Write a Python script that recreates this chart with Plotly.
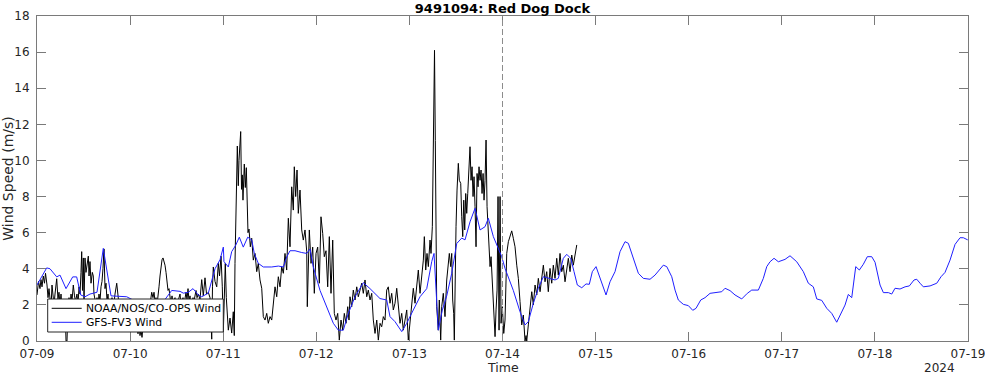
import pandas as pd
import plotly.graph_objects as go

START = pd.Timestamp("2024-07-09 00:00")
END = pd.Timestamp("2024-07-19 00:00")
forecast_start = "2024-07-14 00:00"

# Observed wind (NOAA/NOS/CO-OPS): hours since 2024-07-09 00:00, speed m/s
obs_hours = [
    0.0, 0.39, 0.77, 1.03, 1.29, 1.62, 1.93, 2.19, 2.58, 2.84, 3.09, 3.35, 3.61, 3.87, 4.12, 4.38, 4.64, 5.08,
    5.41, 5.67, 5.93, 6.19, 6.45, 6.70, 6.96, 7.22, 7.48, 7.73, 7.99, 8.25, 8.51, 8.77, 9.02, 9.36, 9.67, 9.93,
    10.31, 10.57, 10.83, 11.09, 11.34, 11.52, 11.73, 11.94, 12.12, 12.37, 12.63, 12.89, 13.23, 13.41, 13.66,
    13.92, 14.26, 14.51, 14.69, 14.95, 15.21, 15.47, 15.73, 15.98, 16.24, 16.50, 16.76, 17.01, 17.27, 17.53,
    17.79, 18.05, 18.30, 18.56, 18.82, 19.08, 19.34, 19.59, 19.85, 20.11, 20.55, 20.88, 21.14, 21.40, 21.91,
    22.43, 22.94, 23.46, 23.98, 24.49, 25.01, 25.52, 26.04, 26.30, 26.55, 26.81, 27.07, 27.33, 27.84, 28.36,
    28.87, 29.13, 29.57, 29.90, 30.16, 30.42, 30.68, 30.94, 31.19, 31.45, 31.71, 31.97, 32.23, 32.48, 32.74,
    33.00, 33.26, 33.51, 33.77, 34.03, 34.29, 34.55, 34.80, 35.06, 35.58, 35.83, 36.35, 36.87, 37.12, 37.64,
    37.90, 38.41, 38.67, 38.93, 39.19, 39.44, 39.70, 40.22, 40.47, 40.99, 41.25, 41.58, 42.02, 42.46, 42.87,
    43.31, 43.70, 44.16, 44.60, 45.04, 45.24, 45.45, 45.89, 46.33, 46.74, 47.05, 47.44, 47.77, 48.03, 48.29,
    48.54, 48.80, 49.06, 49.32, 49.76, 50.19, 50.60, 50.86, 51.04, 51.30, 51.64, 51.89, 52.07, 52.51, 52.72,
    52.92, 53.10, 53.44, 53.70, 53.96, 54.14, 54.39, 54.65, 54.99, 55.35, 55.76, 56.20, 56.64, 57.05, 57.49,
    57.93, 58.34, 58.78, 59.22, 59.63, 60.07, 60.51, 60.92, 61.36, 61.80, 62.21, 62.65, 63.08, 63.50, 63.93,
    64.37, 64.79, 65.22, 65.66, 66.07, 66.33, 66.69, 67.03, 67.36, 67.80, 68.24, 68.65, 69.09, 69.53, 69.68,
    69.94, 70.20, 70.64, 71.07, 71.49, 71.93, 72.36, 72.78, 73.21, 73.65, 74.06, 74.50, 74.94, 75.36, 75.79,
    76.23, 76.64, 77.08, 77.52, 77.93, 78.37, 78.81, 79.22, 79.66, 80.10, 80.43, 80.69, 81.13, 81.54, 81.98,
    82.42, 82.83, 83.27, 83.71, 84.12, 84.56, 85.00, 85.41, 85.85, 86.29, 86.70, 87.14, 87.58, 87.99, 88.43,
    88.86, 89.28, 89.71, 90.15, 90.56, 91.00, 91.44, 91.85, 92.29, 92.73, 93.14, 93.58, 94.02, 94.43, 94.87,
    95.31, 95.72, 96.16, 96.60, 97.01, 97.45, 97.89, 98.30, 98.74, 99.18, 99.59, 99.85, 100.21, 100.54,
    100.88, 101.32, 101.57, 101.91, 102.27, 102.47, 102.68, 103.04, 103.45, 103.71, 104.07, 104.33, 104.74,
    105.18, 105.62, 106.03, 106.29, 106.65, 106.91, 107.16, 107.42, 107.58, 107.76, 108.02, 108.28, 108.61,
    108.87, 109.23, 109.49, 109.75, 110.01, 110.26, 110.52, 110.78, 111.04, 111.30, 111.63, 111.89, 112.15,
    112.41, 112.66, 112.92, 113.18, 113.44, 113.70, 113.95, 114.21, 114.47, 114.73, 114.99, 115.24, 115.50,
    115.76, 116.02, 116.27, 116.53, 116.79, 117.05, 117.31, 117.56, 117.82, 118.08, 118.34, 118.60, 118.85,
    119.11, 119.37, 119.63, 119.96, 120.32, 120.65, 121.09, 121.51, 121.94, 122.38, 122.79, 123.23, 123.67,
    124.08, 124.52, 124.96, 125.37, 125.81, 126.07, 126.25, 126.66, 127.10, 127.54, 127.95, 128.39, 128.83,
    129.24, 129.68, 130.11, 130.53, 130.96, 131.40, 131.81, 132.25, 132.69, 133.10, 133.54, 133.98, 134.39,
    134.83, 135.27, 135.68, 136.12, 136.56, 136.97, 137.41, 137.85, 138.26, 138.70, 139.14,
]
obs_speed = [
    2.55, 3.3, 2.9, 3.4, 3.0, 3.6, 3.2, 3.75, 3.1, 2.4, 2.9, 2.2, 1.8, 3.1, 2.3, 2.0, 2.6, 3.45,
    2.3, 2.7, 2.0, 2.6, 1.8, 2.2, 1.5, 2.0, 0.0, 0.0, 1.8, 2.4, 2.0, 2.6, 2.2, 3.1, 2.5, 2.2,
    2.6, 2.0, 3.0, 2.6, 3.8, 4.95, 2.8, 4.6, 2.2, 4.6, 3.8, 4.2, 4.7, 3.6, 4.4,
    3.2, 3.8, 3.6, 2.6, 2.3, 1.8, 2.4, 2.0, 2.6, 2.2, 3.0, 3.3, 4.0, 5.1, 2.9,
    3.2, 2.2, 2.6, 1.8, 2.3, 2.0, 2.4, 1.6, 2.2, 2.6, 3.2, 2.4, 2.0, 2.3, 1.6,
    2.0, 1.2, 1.8, 1.0, 1.4, 0.8, 1.2, 0.4, 0.9, 0.3, 0.6, 0.2, 0.8, 1.2, 1.8,
    2.3, 2.0, 2.7, 2.4, 2.7, 2.2, 2.4, 2.0, 2.4, 3.0, 3.6, 4.2, 4.5, 4.6, 4.4,
    4.2, 3.8, 3.3, 2.8, 2.9, 2.3, 2.0, 2.5, 2.1, 2.4, 1.8, 2.2, 2.6, 2.0, 2.4,
    2.0, 2.7, 2.3, 2.9, 2.2, 2.5, 2.0, 2.4, 2.2, 2.8, 2.4, 2.6, 2.3, 3.4, 2.5,
    3.5, 2.6, 2.7, 2.4, 0.1, 3.0, 4.1, 3.3, 3.0, 4.3, 3.6, 4.7, 3.0, 0.5, 2.5,
    4.3, 2.4, 1.16, 0.6, 1.27, 0.44, 1.62, 0.3, 4.3, 7.5, 10.8, 8.6, 10.0, 11.6, 8.4,
    9.2, 7.8, 9.8, 8.5, 9.6, 8.5, 6.0, 6.2, 5.22, 5.69, 4.48, 4.85, 3.84, 4.3, 3.38,
    2.92, 1.35, 1.16, 1.53, 0.98, 1.35, 1.16, 2.27, 3.0, 2.45, 3.56, 3.0, 4.12, 3.75, 4.85,
    3.93, 6.8, 5.22, 8.54, 7.25, 9.65, 8.0, 9.47, 7.07, 8.36, 6.15, 5.59, 6.15, 4.95, 1.9,
    4.48, 6.15, 4.3, 5.2, 2.64, 4.85, 5.2, 3.2, 6.88, 5.96, 4.67, 5.0, 3.0, 5.78, 2.64,
    5.59, 1.53, 1.16, 1.53, 0.05, 1.16, 0.6, 1.53, 0.98, 1.9, 1.16, 2.45, 1.9, 2.82, 2.27,
    3.0, 2.45, 2.82, 3.2, 2.64, 3.38, 2.45, 2.82, 2.27, 2.64, 1.16, 0.42, 1.16, 0.05, 0.98,
    0.79, 1.35, 1.16, 2.82, 3.0, 2.09, 2.64, 1.72, 2.09, 2.92, 1.9, 0.98, 1.53, 0.6, 1.16,
    1.72, 0.05, 0.98, 2.27, 2.92, 2.09, 3.2, 3.93, 2.64, 3.75, 4.48, 5.78, 3.93, 4.85,
    4.12, 5.59, 4.85, 6.33, 13.0, 16.1, 11.1, 1.9, 0.6, 2.27, 0.05, 1.9, 2.64,
    1.35, 3.38, 4.3, 4.85, 4.12, 4.85, 2.27, 1.53, 0.05, 3.75, 6.33, 8.36, 9.84,
    8.9, 8.73, 6.88, 5.78, 7.8, 6.15, 8.17, 7.07, 8.17, 9.65, 10.76, 8.9, 9.65,
    8.0, 9.1, 7.44, 5.22, 9.28, 8.54, 9.65, 8.9, 9.47, 8.17, 9.28, 7.8, 8.9,
    11.13, 7.44, 6.33, 5.22, 4.12, 4.67, 3.38, 2.27, 0.6, 0.24, 1.72, 2.82, 8.0,
    0.6, 8.0, 0.98, 1.9, 0.42, 1.16, 4.85, 5.5, 5.87, 6.1, 5.69, 5.22, 4.2,
    3.47, 2.18, 0.89, 1.44, 0.0, 0.3, 0.0, 0.89, 1.99, 2.73, 2.0, 3.1, 2.55,
    3.47, 2.73, 3.65, 4.2, 3.28, 3.84, 2.73, 4.02, 3.2, 4.2, 3.47, 4.58, 3.65,
    4.85, 3.84, 4.2, 3.28, 4.02, 4.58, 3.84, 4.76, 4.2, 4.76, 5.32,
]

# Model wind (GFS-FV3): hours since 2024-07-09 00:00, speed m/s
model_hours = [
    0.0, 2.50, 3.35, 5.08, 5.93, 7.48, 9.20, 10.23, 11.27, 12.37, 13.66, 15.47, 17.09, 19.08, 23.12, 24.49,
    29.13, 33.0, 34.73, 36.87, 37.72, 39.01, 40.22, 41.58, 42.46, 44.16, 45.89, 47.18, 48.03, 48.2, 49.32,
    50.19, 51.22, 52.15, 53.18, 54.32, 55.35, 56.02, 57.05, 58.34, 60.51, 62.21, 63.50, 64.37, 65.22, 66.51,
    68.24, 69.53, 70.38, 71.23, 72.96, 74.69, 76.39, 77.68, 78.96, 80.25, 81.98, 84.12, 85.85, 88.43, 90.15,
    91.0, 92.29, 94.02, 95.31, 97.01, 98.74, 100.47, 101.76, 102.35, 103.45, 104.49, 105.62, 106.91, 108.20,
    109.49, 110.34, 111.63, 112.92, 114.21, 115.50, 116.35, 117.64, 119.80, 120.65, 122.79, 124.52, 125.81,
    126.66, 127.95, 129.24, 130.53, 132.25, 133.54, 134.39, 135.68, 136.56, 137.59, 138.44, 139.29, 140.43,
    141.53, 142.38, 143.16, 144.11, 145.14, 146.0, 146.69, 147.72, 149.01, 150.30, 151.59, 152.44, 153.73,
    155.02, 156.30, 158.03, 159.32, 161.46, 162.34, 163.63, 164.48, 165.33, 166.62, 167.91, 169.04, 169.89,
    171.10, 172.21, 173.50, 175.23, 176.52, 177.37, 178.66, 179.94, 181.67, 183.11, 184.25, 185.95, 187.24,
    188.12, 188.97, 190.00, 191.11, 192.83, 194.12, 195.85, 197.55, 198.84, 200.13, 201.01, 202.30, 203.59,
    204.87, 206.16, 207.01, 208.30, 209.15, 210.03, 211.06, 211.99, 213.02, 214.05, 215.18, 216.04, 217.33,
    218.18, 219.47, 220.34, 221.19, 222.48, 223.77, 224.88, 226.09, 226.79, 227.64, 228.49, 230.22, 231.95,
    233.05, 234.08, 235.37, 236.66, 237.95, 238.80, 239.93,
]
model_speed = [
    3.1, 4.05, 4.0, 3.55, 3.65, 2.9, 3.55, 3.55, 2.55, 2.45, 2.6, 2.7, 5.13, 2.5, 2.45, 2.3,
    2.2, 2.3, 2.8, 2.75, 2.65, 2.7, 2.9, 2.55, 2.45, 2.65, 4.0, 4.5, 5.2, 4.4, 4.1,
    4.95, 5.3, 5.75, 5.2, 5.75, 5.6, 4.85, 4.3, 4.1, 4.1, 4.15, 4.1, 4.65, 5.0, 5.0,
    4.9, 4.85, 5.1, 4.1, 2.8, 1.9, 0.98, 0.6, 0.6, 1.53, 2.45, 3.23, 2.9, 2.35, 2.27,
    1.35, 1.07, 0.52, 0.98, 1.72, 2.45, 2.9, 4.4, 4.85, 0.6, 1.72, 2.5, 3.75, 5.4,
    5.7, 5.6, 6.6, 7.35, 6.15, 6.33, 6.8, 5.78, 4.67, 4.02, 2.8, 1.62, 0.89,
    1.07, 2.09, 2.92, 3.56, 3.47, 3.38, 3.47, 4.58, 4.8, 4.58, 3.84, 3.1, 2.95,
    3.16, 3.14, 3.84, 4.12, 3.47, 2.92, 2.55, 3.28, 3.84, 4.95, 5.5, 5.41, 4.58,
    3.75, 3.47, 3.42, 3.65, 4.2, 4.12, 3.56, 2.82, 2.27, 2.03, 1.96, 1.7, 1.81,
    2.27, 2.4, 2.64, 2.68, 2.73, 2.92, 2.79, 2.55, 2.33, 2.64, 2.82, 2.82, 3.47,
    4.12, 4.39, 4.58, 4.39, 4.52, 4.72, 4.39, 3.84, 3.2, 3.0, 2.33, 2.25, 1.81,
    1.53, 1.04, 1.44, 1.99, 2.58, 2.4, 4.12, 3.93, 4.25, 4.67, 4.67, 4.36, 3.1,
    2.68, 2.68, 2.6, 2.92, 2.88, 3.0, 3.05, 3.38, 3.42, 3.2, 3.0, 3.05, 3.2,
    3.56, 3.8, 4.48, 5.35, 5.72, 5.72, 5.6,
]

station_title = "9491094: Red Dog Dock"
obs_name = "NOAA/NOS/CO-OPS Wind"
model_name = "GFS-FV3 Wind"
y_label = "Wind Speed (m/s)"
x_label = "Time"
year_label = "2024"

obs_time = START + pd.to_timedelta(obs_hours, unit="h")
model_time = START + pd.to_timedelta(model_hours, unit="h")

FONT = "DejaVu Sans"
TXT = "#262626"
AX = "#7a7a7a"
OBS_COLOR = "black"
MODEL_COLOR = "#1f1fff"

# plot-area geometry in pixels (used only for layout placement)
W, H = 985, 376
L, R, T, B = 37, 17, 16, 35
PW, PH = W - L - R, H - T - B


def px_x(px):
    return (px - L) / PW


def px_y(py):
    return (H - B - py) / PH


fig = go.Figure()
fig.add_trace(go.Scatter(x=obs_time, y=obs_speed, mode="lines", name=obs_name,
                         line=dict(color=OBS_COLOR, width=1), showlegend=False))
fig.add_trace(go.Scatter(x=model_time, y=model_speed, mode="lines", name=model_name,
                         line=dict(color=MODEL_COLOR, width=1), showlegend=False))

fig.add_vline(x=pd.Timestamp(forecast_start), line=dict(color="#8c8c8c", width=1, dash="6px,3px"))

fig.update_layout(
    width=W, height=H,
    margin=dict(l=L, r=R, t=T, b=B),
    paper_bgcolor="white", plot_bgcolor="white",
    font=dict(family=FONT, size=12, color=TXT),
    title=dict(text="<b>" + station_title + "</b>", x=(L + PW / 2) / W, xanchor="center",
               y=1 - 8 / H, yanchor="middle", font=dict(size=13, color="black")),
    showlegend=False,
)
fig.update_xaxes(
    type="date", range=[START, END], dtick=86400000, tickformat="%m-%d",
    ticks="inside", ticklen=9, tickcolor=AX, showline=True, linecolor=AX, linewidth=1,
    mirror="allticks", showgrid=False, zeroline=False, automargin=False,
    ticklabeloverflow="allow", ticklabelstandoff=2,
    tickfont=dict(size=12, color=TXT),
)
fig.update_yaxes(
    range=[0, 18], dtick=2, ticks="inside", ticklen=9, tickcolor=AX,
    showline=True, linecolor=AX, linewidth=1, mirror="allticks", showgrid=False, zeroline=False,
    automargin=False, ticklabeloverflow="allow", ticklabelstandoff=4,
    tickfont=dict(size=12, color=TXT),
    title=dict(text=y_label, standoff=8, font=dict(size=14, color=TXT)),
)
# x-axis title and year stamp, placed below the tick labels
fig.add_annotation(text=x_label, xref="paper", yref="paper", x=0.5, y=px_y(376),
                   xanchor="center", yanchor="bottom", showarrow=False, borderpad=0,
                   font=dict(size=12.5, color=TXT))
fig.add_annotation(text=year_label, xref="paper", yref="paper", x=px_x(956), y=px_y(376),
                   xanchor="right", yanchor="bottom", showarrow=False, borderpad=0,
                   font=dict(size=12, color=TXT))

# legend box (drawn like the reference's boxed legend)
fig.add_shape(type="rect", xref="paper", yref="paper", x0=px_x(47.7), x1=px_x(223.3),
              y0=px_y(332), y1=px_y(299), fillcolor="white", line=dict(color="#262626", width=1), layer="above")
for name, color, row_y in [(obs_name, OBS_COLOR, 308.3), (model_name, MODEL_COLOR, 322.3)]:
    fig.add_shape(type="line", xref="paper", yref="paper", x0=px_x(51.7), x1=px_x(81.7),
                  y0=px_y(row_y), y1=px_y(row_y), line=dict(color=color, width=1), layer="above")
    fig.add_annotation(text=name, xref="paper", yref="paper", x=px_x(84.3), y=px_y(row_y),
                       xanchor="left", yanchor="middle", showarrow=False,
                       font=dict(size=10.8, color="black"))

fig.write_html("out.html")
